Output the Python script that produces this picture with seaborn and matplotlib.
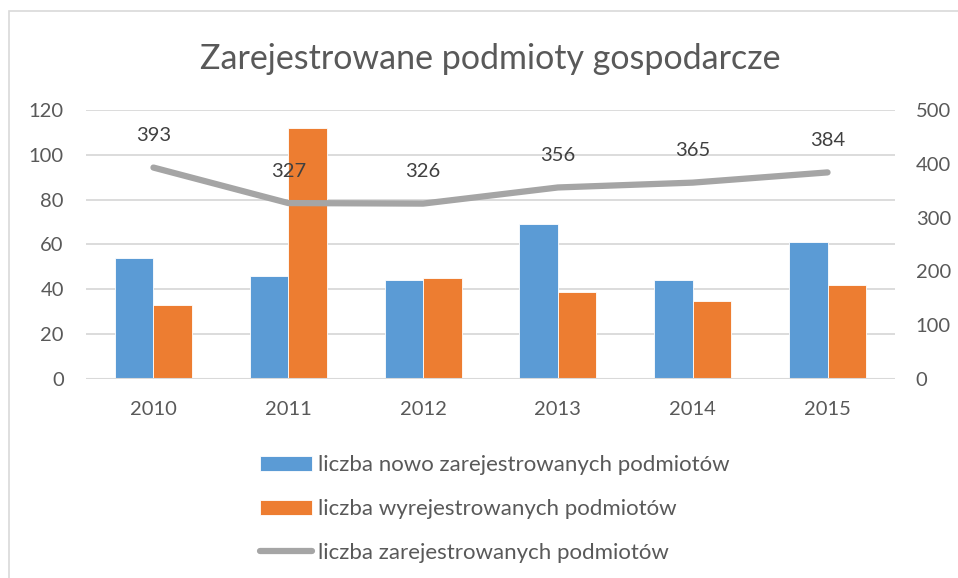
import numpy as np
import pandas as pd
import seaborn as sns
import matplotlib.pyplot as plt
from matplotlib.patches import Rectangle

years = ["2010", "2011", "2012", "2013", "2014", "2015"]
nowe = [54, 46, 44, 69, 44, 61]
wyrejestrowane = [33, 112, 45, 39, 35, 42]
zarejestrowane = [393, 327, 326, 356, 365, 384]

lab_nowe = "liczba nowo zarejestrowanych podmiotów"
lab_wyrej = "liczba wyrejestrowanych podmiotów"
lab_zarej = "liczba zarejestrowanych podmiotów"

BLUE = "#5B9BD5"
ORANGE = "#ED7D31"
GRAY = "#A5A5A5"
TXT = "#595959"

sns.set_style("white")
plt.rcParams["font.family"] = ["Lato", "DejaVu Sans"]
plt.rcParams["text.color"] = TXT

df = pd.DataFrame({
    "rok": years * 2,
    "wartosc": nowe + wyrejestrowane,
    "seria": [lab_nowe] * 6 + [lab_wyrej] * 6,
})

fig = plt.figure(figsize=(9.58, 5.78), dpi=100)
# chart border (only left and top edges visible in the crop)
fig.patches.append(Rectangle((9 / 958, -0.1), 1.1, 1.1 - 11 / 578,
                             transform=fig.transFigure, fill=False,
                             edgecolor="#D9D9D9", lw=1.2))
ax = fig.add_axes([0.0898, 0.3443, 0.8444, 0.4654])

sns.barplot(data=df, x="rok", y="wartosc", hue="seria", ax=ax,
            palette=[BLUE, ORANGE], width=0.57, saturation=1,
            edgecolor="white", linewidth=0.6)
ax.set_ylim(0, 120)
ax.set_yticks(np.arange(0, 121, 20))
ax.set_xlim(-0.5, 5.5)
ax.grid(axis="y", color="#D9D9D9", lw=1.3)
ax.set_axisbelow(True)
for s in ax.spines.values():
    s.set_visible(False)
ax.set_xlabel("")
ax.set_ylabel("")
ax.tick_params(axis="both", length=0, labelsize=14.5, colors=TXT)
ax.tick_params(axis="y", pad=16)
ax.tick_params(axis="x", pad=16)
ax.axhline(0, color="#D9D9D9", lw=1.5)
ax.get_legend().remove()

ax2 = ax.twinx()
x = np.arange(len(years))
sns.lineplot(x=x, y=zarejestrowane, ax=ax2, color=GRAY, lw=4.5,
             solid_capstyle="round", label=lab_zarej, legend=False)
for xi, v in zip(x, zarejestrowane):
    ax2.annotate(str(v), (xi, v), xytext=(0, 23), textcoords="offset points",
                 ha="center", va="center", fontsize=14.5, color="#404040")
ax2.set_ylim(0, 500)
ax2.set_yticks(np.arange(0, 501, 100))
ax2.set_xlim(-0.5, 5.5)
for s in ax2.spines.values():
    s.set_visible(False)
ax2.tick_params(axis="y", length=0, labelsize=14.5, colors=TXT, pad=15)
ax2.grid(False)

fig.text(0.512, 0.898, "Zarejestrowane podmioty gospodarcze",
         ha="center", va="center", fontsize=24.5, color=TXT)

h2, l2 = ax2.get_legend_handles_labels()
h1 = [ax.patches[0], ax.patches[6]]
fig.legend(h1 + h2, [lab_nowe, lab_wyrej, lab_zarej],
           loc="upper left", bbox_to_anchor=(260 / 958, 1 - 455 / 578),
           frameon=False, fontsize=16, handlelength=2.35, handleheight=0.65,
           handletextpad=0.27, labelspacing=1.08, borderpad=0,
           borderaxespad=0, labelcolor=TXT)

fig.savefig("out.png", dpi=100)
